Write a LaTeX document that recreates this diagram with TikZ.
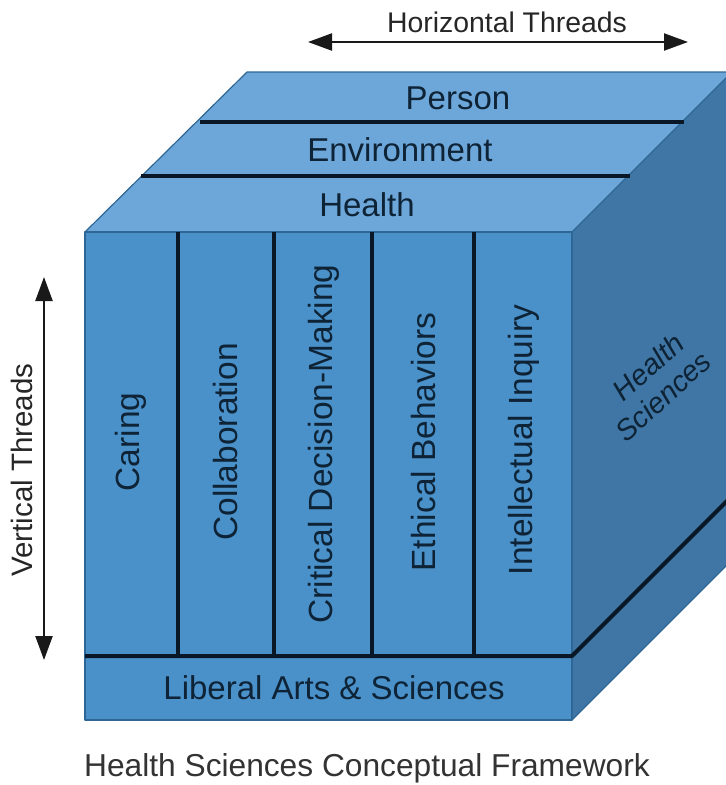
\documentclass[tikz,border=0pt]{standalone}
\usepackage{fontspec}
\setmainfont{Liberation Sans}
\usetikzlibrary{arrows.meta}
\definecolor{topc}{HTML}{6DA7D9}
\definecolor{frontc}{HTML}{4A91CA}
\definecolor{sidec}{HTML}{3F76A5}
\definecolor{edgec}{HTML}{2E6795}
\definecolor{txtc}{HTML}{0E2335}
\definecolor{divc}{HTML}{0A1726}
\begin{document}
\begin{tikzpicture}[x=1pt,y=-1pt,
  lbl/.style={font=\fontsize{33}{38}\selectfont, text=txtc, inner sep=0pt},
  vlbl/.style={font=\fontsize{33.5}{38}\selectfont, text=txtc, inner sep=0pt, rotate=90},
  sidelbl/.style={font=\fontsize{29}{32}\selectfont\itshape, text=txtc, rotate=42, inner sep=0pt},
  caption/.style={font=\fontsize{31.7}{36}\selectfont, text=black!80, inner sep=0pt},
  threadlbl/.style={font=\fontsize{28.4}{32}\selectfont, text=black!85, inner sep=0pt},
  divider/.style={line width=4pt, divc},
  facedge/.style={edgec, line width=1.2pt, line join=round},
  thread/.style={line width=2.2pt, black!90, {Triangle[length=24pt,width=17pt]}-{Triangle[length=24pt,width=17pt]}}]
\useasboundingbox (0,0) rectangle (726,785);
\clip (0,0) rectangle (726,785);
% faces
\fill[topc] (85,232) -- (247,72) -- (740,72) -- (572,232) -- cycle;
\fill[sidec] (572,232) -- (740,64) -- (740,552) -- (572,720) -- cycle;
\fill[frontc] (85,232) rectangle (572,720);
\draw[facedge] (85,232) -- (247,72) -- (740,72);
\draw[facedge] (85,232) rectangle (572,720);
\draw[facedge] (572,232) -- (740,64);
\draw[facedge] (572,720) -- (740,552);
% top separators
\draw[divider] (200,122) -- (684,122);
\draw[divider] (141,176) -- (630,176);
% column dividers
\draw[divider] (178,232) -- (178,656);
\draw[divider] (274,232) -- (274,656);
\draw[divider] (372,232) -- (372,656);
\draw[divider] (474,232) -- (474,656);
% base line
\draw[divider, line join=round] (85,656) -- (572,656) -- (740,488);
% top labels
\node[lbl] (person) at (458,98) {Person};
\node[lbl] (env) at (400,150) {Environment};
\node[lbl] (health) at (367,205) {Health};
% column labels
\node[vlbl] (caring) at (131,442) {Caring};
\node[vlbl] (collab) at (226,442) {Collaboration};
\node[vlbl] (critical) at (324,444) {Critical Decision-Making};
\node[vlbl] (ethical) at (424,442) {Ethical Behaviors};
\node[vlbl] (inquiry) at (524,440) {Intellectual Inquiry};
% base label
\node[lbl] (liberal) at (334,688) {Liberal Arts \& Sciences};
% side label
\node[sidelbl] (hs1) at (648,367) {Health};
\node[sidelbl] (hs2) at (663,396) {Sciences};
% threads
\node[threadlbl] (hlbl) at (507,22) {Horizontal Threads};
\coordinate (hl) at (308,42);
\coordinate (hr) at (688,42);
\draw[thread] (hl) -- (hr);
\node[threadlbl, font=\fontsize{29.5}{32}\selectfont, rotate=90] (vlbl) at (22,470) {Vertical Threads};
\coordinate (vt) at (44,277);
\coordinate (vb) at (44,660);
\draw[thread] (vt) -- (vb);
% caption
\node[caption] (title) at (367,768) {Health Sciences Conceptual Framework};
\end{tikzpicture}
\end{document}
